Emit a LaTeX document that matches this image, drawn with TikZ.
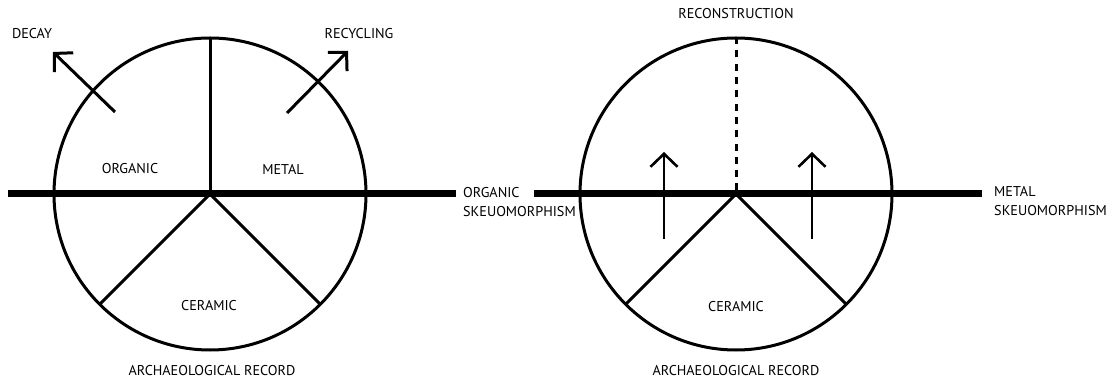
\documentclass[tikz,border=0pt]{standalone}
\usepackage{fontspec}
\setmainfont{PT Sans}
\usetikzlibrary{arrows.meta,positioning}
\tikzstyle{label} = [font=\fontsize{14.2}{18.5}\selectfont, inner sep=0pt]
\tikzstyle{sidelabel} = [label, align=left, anchor=west]
\tikzstyle{ring} = [line width=3pt]
\tikzstyle{bar} = [line width=7pt]
\tikzstyle{spoke} = [line width=3pt]
\tikzstyle{flow} = [line width=3pt, -{Straight Barb[length=13pt,width=27pt]}]
\tikzstyle{lift} = [line width=2.6pt, -{Straight Barb[length=13pt,width=27pt]}]

\begin{document}
\begin{tikzpicture}[x=1pt,y=1pt]
            \useasboundingbox (0,0) rectangle (1111,383);

            % left: archaeological record
            \coordinate (lc) at (210,189);
            \coordinate (lbarw) at (8,189);
            \coordinate (lbare) at (456,189);
            \draw[ring] (lc) circle (156);
            \draw[bar] (lbarw) -- (lbare);
            \draw[spoke] (lc) -- ++(90:156);
            \draw[spoke] (lc) -- ++(-135:156);
            \draw[spoke] (lc) -- ++(-45:156);

            \coordinate (decayfrom) at (115,271);
            \coordinate (decayto) at (53,331);
            \coordinate (recfrom) at (287,270);
            \coordinate (recto) at (348,332);
            \draw[flow] (decayfrom) -- (decayto);
            \draw[flow] (recfrom) -- (recto);

            \node[label] (decay) at (32,349) {DECAY};
            \node[label] (recyc) at (359,349) {RECYCLING};
            \node[label] (org) at (130,214) {ORGANIC};
            \node[label] (met) at (283,214) {METAL};
            \node[label] (cer1) at (209,77) {CERAMIC};
            \node[label] (rec1) at (212,12) {ARCHAEOLOGICAL RECORD};
            \node[sidelabel] (orgsk) at (463,181) {ORGANIC\\SKEUOMORPHISM};

            % right: reconstruction
            \coordinate (rc) at (736,189);
            \coordinate (rbarw) at (534,189);
            \coordinate (rbare) at (982,189);
            \draw[ring] (rc) circle (156);
            \draw[bar] (rbarw) -- (rbare);
            \draw[spoke, dash pattern=on 7pt off 6.3pt] (rc) ++(0,3.5) -- ++(0,152.5);
            \draw[spoke] (rc) -- ++(-135:156);
            \draw[spoke] (rc) -- ++(-45:156);

            \coordinate (upAfrom) at (664,144);
            \coordinate (upAto) at (664,231);
            \coordinate (upBfrom) at (812,144);
            \coordinate (upBto) at (812,231);
            \draw[lift] (upAfrom) -- (upAto);
            \draw[lift] (upBfrom) -- (upBto);

            \node[label] (recon) at (736,369) {RECONSTRUCTION};
            \node[label] (cer2) at (736,76) {CERAMIC};
            \node[label] (rec2) at (736,12) {ARCHAEOLOGICAL RECORD};
            \node[sidelabel] (metsk) at (994,182) {METAL\\SKEUOMORPHISM};
\end{tikzpicture}
\end{document}
